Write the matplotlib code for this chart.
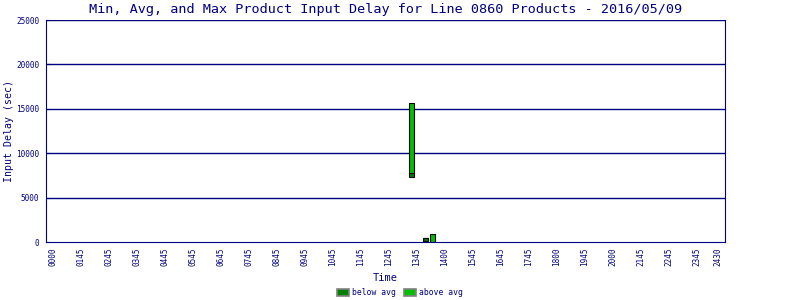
import matplotlib
matplotlib.use("Agg")
import matplotlib.pyplot as plt
from matplotlib.patches import Patch

# data (x in hour slots)
tick_labels = ['0000', '0145', '0245', '0345', '0445', '0545', '0645', '0745',
               '0845', '0945', '1045', '1145', '1245', '1345', '1400', '1545',
               '1645', '1745', '1800', '1945', '2000', '2145', '2245', '2345', '2430']
tick_pos = list(range(24)) + [23.75]
times = [12.8, 13.3, 13.55]
mins = [7350, 170, 0]
avgs = [7770, 450, 0]
maxs = [15650, 450, 900]

navy = '#000080'
dark_green = '#008000'
light_green = '#00C000'

plt.rcParams['font.family'] = 'DejaVu Sans Mono'

fig = plt.figure(figsize=(8, 3), dpi=100)
ax = fig.add_axes([0.0575, 0.1933, 0.8488, 0.74])

for y in range(5000, 25001, 5000):
    ax.axhline(y, color=navy, lw=1, zorder=1)

w = 0.2
below = [a - m for a, m in zip(avgs, mins)]
above = [x - a for x, a in zip(maxs, avgs)]
ax.bar(times, below, bottom=mins, width=w, color=dark_green,
       edgecolor='black', lw=0.8, zorder=3)
ax.bar(times, above, bottom=avgs, width=w, color=light_green,
       edgecolor='black', lw=0.8, zorder=3)

ax.set_xlim(-0.25, 24)
ax.set_ylim(0, 25000)
ax.set_xticks(tick_pos)
ax.set_xticklabels(tick_labels, rotation=90, fontsize=5.5, color=navy)
ax.set_yticks(range(0, 25001, 5000))
ax.set_yticklabels([str(v) for v in range(0, 25001, 5000)], fontsize=5.6, color=navy)
ax.tick_params(axis='x', length=0, pad=4)
ax.tick_params(axis='y', length=3, direction='in', color=navy, pad=5)
for s in ax.spines.values():
    s.set_color(navy)
ax.spines['top'].set_visible(False)

ax.set_title('Min, Avg, and Max Product Input Delay for Line 0860 Products - 2016/05/09',
             color=navy, fontsize=9.7, pad=5)
ax.set_ylabel('Input Delay (sec)', color=navy, fontsize=7.1)
ax.yaxis.set_label_coords(-0.047, 0.5)
ax.set_xlabel('Time', color=navy, fontsize=7.5, labelpad=5)

handles = [Patch(facecolor=dark_green, edgecolor='grey', lw=1.2, label='below avg'),
           Patch(facecolor=light_green, edgecolor='grey', lw=1.2, label='above avg')]
leg = fig.legend(handles=handles, loc='lower center', bbox_to_anchor=(0.5, -0.015),
                 ncol=2, frameon=False, fontsize=5.8, handlelength=1.5,
                 handleheight=1.0, columnspacing=0.9, handletextpad=0.4)
for t in leg.get_texts():
    t.set_color(navy)

fig.savefig('out.png', dpi=100, facecolor='white')
